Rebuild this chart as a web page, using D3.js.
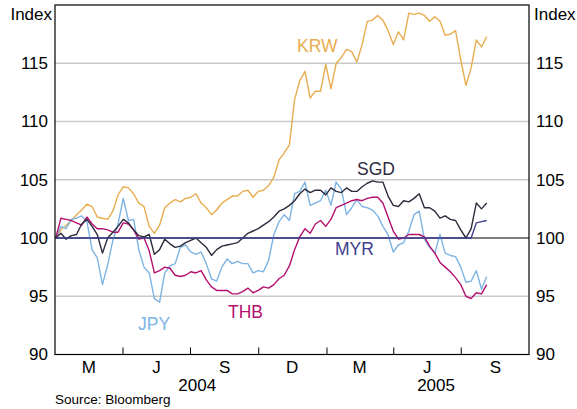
<!DOCTYPE html>
<html><head><meta charset="utf-8">
<script src="https://cdn.jsdelivr.net/npm/d3@7"></script>
<style>
body{margin:0;background:#fff}
svg{display:block}
text{font-family:"Liberation Sans",Arial,Helvetica,sans-serif}
</style>
</head><body>
<svg id="c" width="577" height="409"></svg>
<script>
// ---- data (weekly, index 2 Jan 2004 = 100) ----
const firstDate = "2004-01-02";
const stepDays = 7;
const krw = [100.0,100.7,101.1,101.5,102.0,102.4,102.9,102.7,101.8,101.7,
101.6,102.3,103.7,104.4,104.3,103.8,103.0,102.7,101.0,100.4,
101.1,102.6,103.0,103.3,103.1,103.4,103.5,103.8,103.0,102.6,
102.0,102.4,103.0,103.3,103.6,103.6,104.0,104.1,103.5,104.0,
104.1,104.5,105.2,106.7,107.3,108.0,111.9,113.5,114.3,112.0,
112.6,112.6,114.9,112.8,115.0,115.5,116.2,116.0,115.1,116.6,
118.6,118.7,119.1,118.7,117.8,116.6,117.7,117.0,119.3,119.2,
119.3,119.1,118.6,119.0,118.6,117.4,117.5,117.8,115.3,113.1,
114.6,117.0,116.4,117.3];
const sgd = [100.0,100.4,99.9,100.2,100.3,101.2,101.6,101.0,100.3,98.7,
100.0,100.5,101.0,101.6,101.3,100.7,100.2,100.1,100.3,98.6,
99.0,99.9,99.5,99.2,99.3,99.6,99.8,100.0,99.6,99.2,
98.5,99.0,99.3,99.4,99.5,99.6,100.0,100.4,100.6,100.8,
101.1,101.4,101.8,102.3,102.5,102.8,103.2,103.8,104.2,103.9,
104.1,104.1,103.7,104.3,104.0,103.9,104.3,104.0,104.0,104.4,
104.7,104.9,104.8,104.8,103.6,102.8,102.7,103.2,103.1,103.4,
103.8,102.6,102.6,102.3,101.7,101.9,101.6,101.5,100.7,100.0,
100.8,103.0,102.5,103.0];
const jpy = [100.0,101.0,100.8,101.6,101.7,101.9,101.4,99.0,98.3,96.0,
97.7,99.8,101.2,103.4,101.5,101.6,99.0,97.5,97.0,94.8,
94.5,97.0,97.6,97.8,99.2,99.4,98.8,98.6,98.8,97.8,
96.5,96.3,97.5,98.2,97.8,98.0,97.8,97.8,97.0,97.2,
97.1,98.1,100.3,101.4,102.0,101.5,103.8,104.0,104.8,102.8,
103.0,103.2,104.1,102.8,104.8,104.2,102.0,102.6,103.3,102.7,
102.6,102.4,101.9,101.0,100.3,98.8,99.4,99.6,100.6,102.0,
102.3,99.9,99.2,98.7,100.3,98.7,98.5,98.4,97.5,96.2,
96.3,97.2,95.6,96.7];
const thb = [100.0,101.7,101.6,101.5,101.3,101.1,101.8,101.2,100.8,100.8,
100.7,100.5,100.5,101.3,101.2,100.7,99.9,100.0,98.9,97.0,
97.2,97.5,97.4,96.8,96.7,96.8,97.1,97.0,97.2,96.4,
95.8,95.5,95.5,95.5,95.2,95.2,95.4,95.7,95.3,95.5,
95.8,95.7,96.0,96.5,96.8,97.6,99.0,100.1,100.8,100.4,
101.2,101.5,101.0,101.6,102.6,102.8,103.0,103.2,103.3,103.2,
103.4,103.5,103.5,103.0,101.8,100.6,99.9,100.0,100.3,100.3,
100.3,100.1,99.3,98.7,97.9,97.5,97.1,96.6,96.0,95.0,
94.8,95.3,95.2,96.0];
const myr = [100,100,100,100,100,100,100,100,100,100,
100,100,100,100,100,100,100,100,100,100,
100,100,100,100,100,100,100,100,100,100,
100,100,100,100,100,100,100,100,100,100,
100,100,100,100,100,100,100,100,100,100,
100,100,100,100,100,100,100,100,100,100,
100,100,100,100,100,100,100,100,100,100,
100,100,100,100,100,100,100,100,100,100,
100,101.3,101.4,101.5];

const yTicks = [90, 95, 100, 105, 110, 115];
const quarterStarts = ["2004-04-01","2004-07-01","2004-10-01","2005-01-01","2005-04-01","2005-07-01"];
const quarterLabels = ["M","J","S","D","M","J","S"];
const quarterMids = ["2004-02-15","2004-05-16","2004-08-16","2004-11-15","2005-02-14","2005-05-16","2005-08-16"];
const yearLabels = ["2004","2005"];
const yearMids = ["2004-07-10","2005-05-28"];
const seriesNames = ["KRW","JPY","THB","SGD","MYR"];

// ---- layout ----
const svg = d3.select("#c");
const L = 55, R = 529, T = 5, B = 354.5;
const parse = d3.utcParse("%Y-%m-%d");
const dates = krw.map((_, i) => d3.utcDay.offset(parse(firstDate), i * stepDays));

const x = d3.scaleUtc().domain([parse("2004-01-01"), parse("2005-10-01")]).range([L, R]);
const y = d3.scaleLinear().domain([90, 120]).range([B, T]);

const colors = {KRW:"#E7AD4F", JPY:"#7DB4E4", THB:"#B4106F", SGD:"#2B2B3D", MYR:"#3E3E8E"};
const seriesData = {KRW:krw, JPY:jpy, THB:thb, SGD:sgd, MYR:myr};

// gridlines
svg.append("g").selectAll("line").data(yTicks.filter(v => v !== 90 && v !== 100)).join("line")
  .attr("x1", L).attr("x2", R).attr("y1", d => y(d)).attr("y2", d => y(d))
  .attr("stroke", "#c9c9c9").attr("stroke-width", 1.4);

// 100 line
svg.append("line").attr("x1", L).attr("x2", R).attr("y1", y(100)).attr("y2", y(100))
  .attr("stroke", "#000").attr("stroke-width", 1.2);

// series lines
const line = d3.line().x((d, i) => x(dates[i])).y(d => y(d));
seriesNames.forEach(n => {
  svg.append("path").datum(seriesData[n]).attr("d", line)
    .attr("fill", "none").attr("stroke", colors[n]).attr("stroke-width", 1.4)
    .attr("stroke-linejoin", "round");
});

// frame
svg.append("rect").attr("x", L).attr("y", T).attr("width", R - L).attr("height", B - T)
  .attr("fill", "none").attr("stroke", "#000").attr("stroke-width", 1.2);

// quarter ticks (inside)
const xTickAxis = d3.axisBottom(x).tickValues(quarterStarts.map(parse)).tickSize(-7).tickFormat("");
const gx = svg.append("g").attr("transform", `translate(0,${B})`).call(xTickAxis);
gx.select(".domain").remove();
gx.selectAll(".tick line").attr("stroke", "#000").attr("stroke-width", 1);

// quarter labels
const xLabAxis = d3.axisBottom(x).tickValues(quarterMids.map(parse)).tickSize(0)
  .tickFormat((d, i) => quarterLabels[i]);
const gxl = svg.append("g").attr("transform", `translate(0,${B})`).call(xLabAxis);
gxl.select(".domain").remove();
gxl.selectAll("text").attr("font-size", 17).attr("fill", "#000").attr("dy", "0.71em").attr("y", 6)
  .style("font-family", '"Liberation Sans",Arial,sans-serif');

// year labels
const yrAxis = d3.axisBottom(x).tickValues(yearMids.map(parse)).tickSize(0)
  .tickFormat((d, i) => yearLabels[i]);
const gyr = svg.append("g").attr("transform", `translate(0,${B + 23})`).call(yrAxis);
gyr.select(".domain").remove();
gyr.selectAll("text").attr("font-size", 17).attr("fill", "#000").attr("dy", "0.71em").attr("y", 1)
  .style("font-family", '"Liberation Sans",Arial,sans-serif');

// y axes labels
const yl = d3.axisLeft(y).tickValues(yTicks).tickSize(0).tickPadding(7);
const gyl = svg.append("g").attr("transform", `translate(${L},0)`).call(yl);
gyl.select(".domain").remove();
gyl.selectAll("text").attr("font-size", 17).attr("fill", "#000")
  .style("font-family", '"Liberation Sans",Arial,sans-serif');
const yr = d3.axisRight(y).tickValues(yTicks).tickSize(0).tickPadding(7);
const gyrr = svg.append("g").attr("transform", `translate(${R},0)`).call(yr);
gyrr.select(".domain").remove();
gyrr.selectAll("text").attr("font-size", 17).attr("fill", "#000")
  .style("font-family", '"Liberation Sans",Arial,sans-serif');

// "Index" captions
svg.append("text").attr("x", L - 3).attr("y", 20).attr("text-anchor", "end")
  .attr("font-size", 17).text("Index");
svg.append("text").attr("x", R + 5).attr("y", 20).attr("text-anchor", "start")
  .attr("font-size", 17).text("Index");

// series labels
const labels = [
  {n:"KRW", x:297, y:52},
  {n:"SGD", x:357, y:175},
  {n:"MYR", x:335, y:255},
  {n:"JPY", x:138, y:330},
  {n:"THB", x:228, y:318}
];
svg.append("g").selectAll("text").data(labels).join("text")
  .attr("x", d => d.x).attr("y", d => d.y).attr("font-size", 17.5)
  .attr("fill", d => colors[d.n]).text(d => d.n);

// source
svg.append("text").attr("x", 55).attr("y", 404).attr("font-size", 13.5).text("Source: Bloomberg");
</script>
</body></html>
